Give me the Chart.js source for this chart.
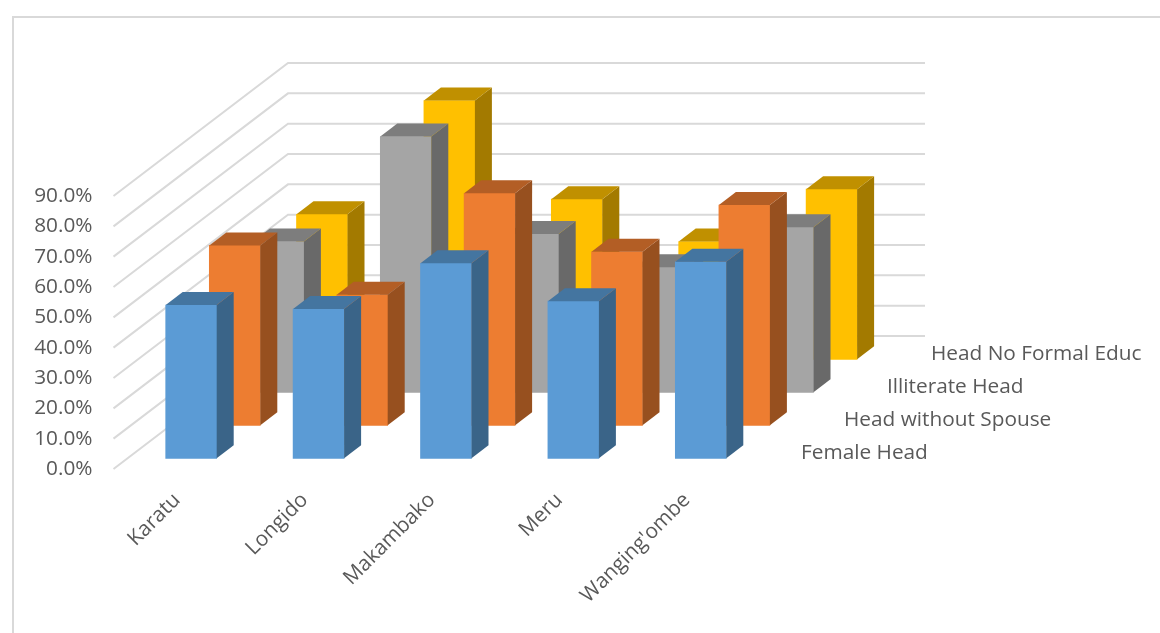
<!DOCTYPE html>
<html>
<head>
<meta charset="utf-8">
<style>
html,body{margin:0;padding:0;background:#fff;width:1160px;height:633px;overflow:hidden}
#frame{position:absolute;left:12px;top:16px;width:1148px;height:617px;border-left:2px solid #d9d9d9;border-top:2px solid #d9d9d9;box-sizing:border-box}
canvas{position:absolute;left:0;top:0}
</style>
<script src="https://cdn.jsdelivr.net/npm/chart.js@4"></script>
</head>
<body>
<div id="frame"></div>
<canvas id="c" width="1160" height="633"></canvas>
<script>
const categories = ["Karatu","Longido","Makambako","Meru","Wanging'ombe"];
const seriesNames = ["Female Head","Head without Spouse","Illiterate Head","Head No Formal Educ"];
const femaleHead = [50.5,49.2,64.3,51.8,64.8];
const headWithoutSpouse = [59.3,43.0,76.5,57.2,72.6];
const illiterateHead = [49.7,84.3,52.2,41.2,54.4];
const headNoFormalEduc = [47.8,85.3,52.8,38.8,56.1];
const seriesValues = [femaleHead,headWithoutSpouse,illiterateHead,headNoFormalEduc];

const frontColors = ["#5B9BD5","#ED7D31","#A5A5A5","#FFC000"];
const sideColors = ["#3A6488","#97501F","#696969","#A37A00"];
const topColors = ["#4475A0","#B35E25","#7D7D7D","#C09000"];

const FONT = '"Open Sans"';
const FONT_SIZE = 20.8;
const TEXT = "#595959";
const WALL_DX = 174.5, WALL_DY = -133;
const SERIES_DX = [14,57.6,101.2,144.8];
const SERIES_DY = [-10.7,-43.7,-76.7,-109.7];
const BAR_DX = 17, BAR_DY = -13;
const LABEL_X = [801,844,887,931], LABEL_Y = [453,420,387,354];

const depthPlugin = {
  id:"depth",
  beforeDatasetsDraw(chart){
    const {ctx,chartArea:a,scales:{y}} = chart;
    ctx.save();
    ctx.strokeStyle="#D9D9D9"; ctx.lineWidth=2;
    y.ticks.forEach(t=>{
      const py=y.getPixelForValue(t.value);
      ctx.beginPath();
      ctx.moveTo(a.left,py);
      ctx.lineTo(a.left+WALL_DX,py+WALL_DY);
      ctx.lineTo(a.right+WALL_DX,py+WALL_DY);
      ctx.stroke();
    });
    ctx.restore();
  },
  beforeDatasetDraw(chart,args){
    const c=chart.ctx, i=args.index;
    c.save();
    c.translate(SERIES_DX[i],SERIES_DY[i]);
  },
  afterDatasetDraw(chart,args){
    const c=chart.ctx, i=args.index;
    args.meta.data.forEach(b=>{
      const p=b.getProps(["x","y","base","width"],true);
      const l=p.x-p.width/2, r=p.x+p.width/2, t=p.y, bt=p.base;
      c.fillStyle=sideColors[i];
      c.beginPath();
      c.moveTo(r,t);c.lineTo(r+BAR_DX,t+BAR_DY);c.lineTo(r+BAR_DX,bt+BAR_DY);c.lineTo(r,bt);
      c.closePath();c.fill();
      c.fillStyle=topColors[i];
      c.beginPath();
      c.moveTo(l,t);c.lineTo(l+BAR_DX,t+BAR_DY);c.lineTo(r+BAR_DX,t+BAR_DY);c.lineTo(r,t);
      c.closePath();c.fill();
    });
    c.restore();
  },
  afterDraw(chart){
    const c=chart.ctx;
    c.save();
    c.font=FONT_SIZE+"px "+FONT;
    c.fillStyle=TEXT;
    c.textAlign="left";c.textBaseline="middle";
    chart.data.datasets.forEach((d,i)=>c.fillText(d.label,LABEL_X[i],LABEL_Y[i]));
    c.restore();
  }
};

new Chart(document.getElementById("c"),{
  type:"bar",
  data:{
    labels:categories,
    datasets:seriesNames.map((n,i)=>({
      label:n,
      data:seriesValues[i],
      backgroundColor:frontColors[i],
      grouped:false,
      barThickness:51,
      clip:false
    }))
  },
  options:{
    responsive:false,
    animation:false,
    devicePixelRatio:1,
    layout:{autoPadding:false,padding:{left:0,top:196,right:409.5,bottom:0}},
    plugins:{legend:{display:false},title:{display:false},tooltip:{enabled:false}},
    font:{family:FONT},
    scales:{
      x:{
        grid:{display:false,drawTicks:false},border:{display:false},
        afterFit(s){s.height=164;},
        ticks:{color:TEXT,font:{family:FONT,size:FONT_SIZE},minRotation:45,maxRotation:45,padding:19}
      },
      y:{
        min:0,max:90,
        grid:{display:false,drawTicks:false},border:{display:false},
        afterFit(s){s.width=113.5;},
        ticks:{stepSize:10,color:TEXT,font:{family:FONT,size:FONT_SIZE},padding:21,callback:v=>v.toFixed(1)+"%"}
      }
    }
  },
  plugins:[depthPlugin]
});
</script>
</body>
</html>
